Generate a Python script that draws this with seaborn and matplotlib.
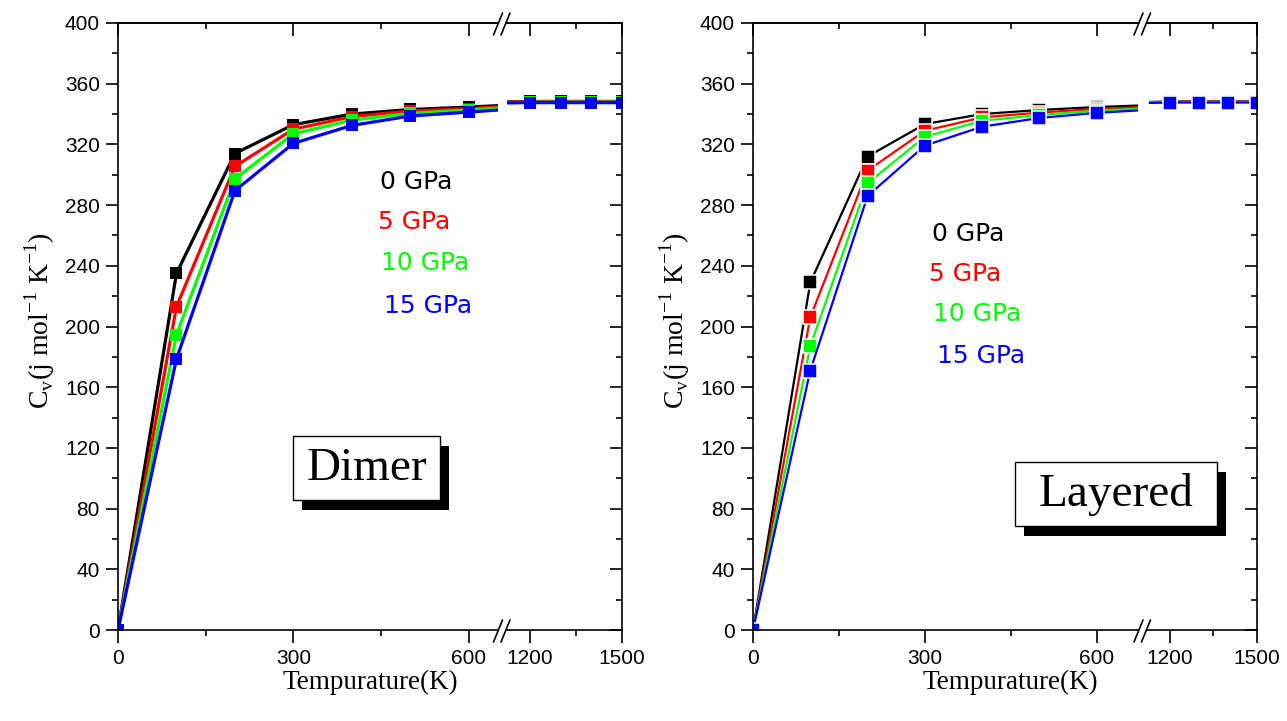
import matplotlib
matplotlib.use("Agg")
import matplotlib.pyplot as plt
import numpy as np
import pandas as pd
import seaborn as sns
from matplotlib.ticker import FixedLocator, MultipleLocator, NullFormatter
from matplotlib.lines import Line2D
from matplotlib.patches import Rectangle

# ---------------- data ----------------
temperature = [0, 100, 200, 300, 400, 500, 600, 700, 1100, 1200, 1300, 1400, 1500]
pressures = ["0 GPa", "5 GPa", "10 GPa", "15 GPa"]
colors = ["#000000", "#FF0000", "#00FF00", "#0000FF"]

dimer_0 = [0, 235, 314, 333, 340, 343, 344.6, 346.5, 348.0, 348.3, 348.3, 348.3, 348.3]
dimer_5 = [0, 213, 305.5, 330, 338.3, 342, 343.6, 345.8, 347.8, 348.1, 348.1, 348.1, 348.1]
dimer_10 = [0, 194.5, 297.2, 327, 336, 340.5, 342.7, 345.0, 347.5, 347.8, 347.8, 347.8, 347.8]
dimer_15 = [0, 178.6, 289.5, 320.7, 332.5, 338.7, 341.3, 344.0, 347.3, 347.5, 347.5, 347.5, 347.5]

layered_0 = [0, 229, 312, 333.4, 340, 342.7, 344.6, 346.0, 347.8, 348.3, 348.3, 348.3, 348.3]
layered_5 = [0, 206, 302.7, 329, 337.8, 341, 343.3, 345.0, 347.6, 348.1, 348.1, 348.1, 348.1]
layered_10 = [0, 187, 294.4, 325, 335.6, 339.4, 342.2, 344.0, 347.4, 347.9, 347.9, 347.9, 347.9]
layered_15 = [0, 171, 286, 319.2, 331.7, 337.4, 340.8, 343.0, 347.2, 347.6, 347.6, 347.6, 347.6]

y_ticks = list(range(0, 401, 40))
x_major_low = [0, 300, 600]
x_minor_low = [150, 450]
x_major_high = [1200, 1500]
x_minor_high = [1350]


def long_df(series):
    rows = []
    for p, vals in zip(pressures, series):
        for t, v in zip(temperature, vals):
            rows.append({"T": t, "Cv": v, "P": p})
    return pd.DataFrame(rows)


df_dimer = long_df([dimer_0, dimer_5, dimer_10, dimer_15])
df_layered = long_df([layered_0, layered_5, layered_10, layered_15])

# ---------------- style ----------------
sns.set_style("ticks")
plt.rcParams["font.family"] = ["Liberation Sans", "DejaVu Sans"]
plt.rcParams["axes.linewidth"] = 1.2
for k in ("text.color", "axes.labelcolor", "xtick.color", "ytick.color",
          "axes.edgecolor"):
    plt.rcParams[k] = "black"

W, H = 1287, 721
fig = plt.figure(figsize=(W / 100, H / 100), dpi=100)

TOP, BOT = 23, 630
TICK_FS = 15


def fx(x):
    return x / W


def fy(y):
    return 1 - y / H


def add_ax(xl, xr):
    return fig.add_axes([fx(xl), fy(BOT), (xr - xl) / W, (BOT - TOP) / H])


def style_common(ax):
    ax.set_ylim(0, 400)
    ax.set_xlabel("")
    ax.set_ylabel("")
    for s in ax.spines.values():
        s.set_linewidth(1.2)
        s.set_color("black")


def draw_panel(df, x0, xb1, xb2, x1, xlim_low, lw, ms, mec, mew, label_x, ylab_x,
               texts, box, box_text):
    ax1 = add_ax(x0, xb1)
    ax2 = add_ax(xb2, x1)
    for ax in (ax1, ax2):
        sns.lineplot(data=df, x="T", y="Cv", hue="P", hue_order=pressures,
                     palette=colors, marker="s", markersize=ms,
                     markeredgecolor=mec, markeredgewidth=mew, linewidth=lw,
                     legend=False, ax=ax)
        if mec is None:
            for ln in ax.lines:
                ln.set_markeredgecolor(ln.get_color())
        style_common(ax)

    # low segment
    ax1.set_xlim(0, xlim_low)
    ax1.spines["right"].set_visible(False)
    ax1.set_xticks(x_major_low)
    ax1.xaxis.set_minor_locator(FixedLocator(x_minor_low))
    ax1.set_yticks(y_ticks)
    ax1.yaxis.set_minor_locator(MultipleLocator(20))
    ax1.yaxis.set_ticks_position("left")
    ax1.xaxis.set_ticks_position("bottom")
    ax1.tick_params(axis="both", which="major", direction="out", length=9,
                    width=1.2, labelsize=TICK_FS, pad=4)
    ax1.tick_params(axis="both", which="minor", direction="out", length=4.5,
                    width=1.2)
    ax1.tick_params(axis="x", which="major", pad=5)

    # high segment
    ax2.set_xlim(1125, 1500)
    ax2.spines["left"].set_visible(False)
    ax2.set_xticks(x_major_high)
    ax2.xaxis.set_minor_locator(FixedLocator(x_minor_high))
    ax2.set_yticks(y_ticks)
    ax2.yaxis.set_minor_locator(MultipleLocator(20))
    ax2.yaxis.set_ticks_position("right")
    ax2.xaxis.set_ticks_position("bottom")
    ax2.tick_params(axis="y", which="both", direction="in", labelright=False,
                    labelleft=False, width=1.2)
    ax2.tick_params(axis="y", which="major", length=9)
    ax2.tick_params(axis="y", which="minor", length=4.5)
    ax2.tick_params(axis="x", which="major", direction="out", length=9,
                    width=1.2, labelsize=TICK_FS, pad=5)
    ax2.tick_params(axis="x", which="minor", direction="out", length=4.5,
                    width=1.2)

    # top inward ticks
    for ax, maj, mnr in ((ax1, x_major_low, x_minor_low),
                         (ax2, x_major_high, x_minor_high)):
        sec = ax.secondary_xaxis("top")
        sec.set_xticks(maj)
        sec.xaxis.set_minor_locator(FixedLocator(mnr))
        sec.tick_params(axis="x", which="both", direction="in",
                        labeltop=False, width=1.2, color="black")
        sec.tick_params(axis="x", which="major", length=9)
        sec.tick_params(axis="x", which="minor", length=4.5)
        sec.xaxis.set_major_formatter(NullFormatter())
        sec.spines["top"].set_linewidth(1.2)
        sec.spines["top"].set_color("black")

    # axis break connections and marks
    c = (xb1 + xb2) / 2
    for yy in (TOP, BOT):
        fig.add_artist(Line2D([fx(xb1), fx(c - 4.5)], [fy(yy), fy(yy)],
                              color="black", lw=1.2))
        fig.add_artist(Line2D([fx(c + 3.5), fx(xb2)], [fy(yy), fy(yy)],
                              color="black", lw=1.2))
        for dx in (-9, -1.5):
            fig.add_artist(Line2D([fx(c + dx), fx(c + dx + 9)],
                                  [fy(yy + 12), fy(yy - 10)],
                                  color="black", lw=1.2))

    # labels
    fig.text(fx(ylab_x), fy(321),
             r"C$_{\mathregular{v}}$(j mol$^{\mathregular{-1}}$ K$^{\mathregular{-1}}$)",
             rotation=90, ha="center", va="center", fontsize=20,
             family="Liberation Serif")
    fig.text(fx(label_x), fy(682), "Tempurature(K)", ha="center",
             va="center", fontsize=19.5, family="Liberation Serif")

    # pressure labels
    for (tx, ty), lab, col in zip(texts, pressures, colors):
        fig.text(fx(tx), fy(ty), lab, color=col, ha="left", va="center",
                 fontsize=18, family="DejaVu Sans")

    # name box with shadow
    bx0, by0, bx1, by1 = box
    fig.add_artist(Rectangle((fx(bx0 + 9), fy(by1 + 10)), (bx1 - bx0) / W,
                             (by1 - by0) / H, transform=fig.transFigure,
                             facecolor="black", edgecolor="black", lw=0))
    fig.add_artist(Rectangle((fx(bx0), fy(by1)), (bx1 - bx0) / W,
                             (by1 - by0) / H, transform=fig.transFigure,
                             facecolor="white", edgecolor="black", lw=1.0))
    fig.text(fx((bx0 + bx1) / 2), fy((by0 + by1) / 2 + 1), box_text,
             ha="center", va="center", fontsize=34, color="black",
             family="Liberation Serif")


draw_panel(df_dimer, 118, 498, 507, 622, 650, lw=2.3, ms=8.6, mec=None, mew=0,
           label_x=370, ylab_x=40,
           texts=[(380, 182), (378, 222), (381, 263), (384, 306)],
           box=(293, 436, 440, 500), box_text="Dimer")

draw_panel(df_layered, 753, 1138, 1148, 1257, 672, lw=1.6, ms=10.0, mec="white",
           mew=1.1, label_x=1010, ylab_x=675,
           texts=[(932, 234), (929, 274), (933, 314), (937, 356)],
           box=(1015, 462, 1217, 526), box_text="Layered")

fig.savefig("out.png", dpi=100)
